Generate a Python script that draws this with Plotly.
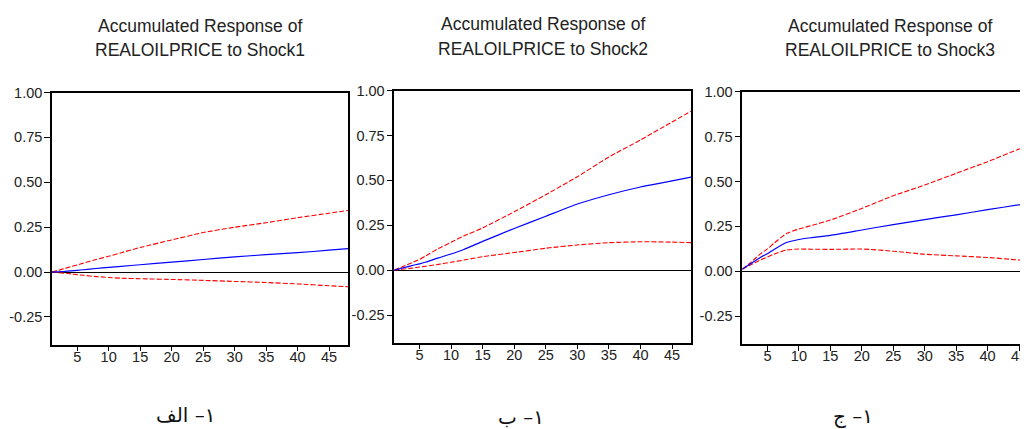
import plotly.graph_objects as go

# the page body has an 8px margin; the figure is sized so it fills the rest of the window
OFF = 8
W, H = 1028 - OFF, 429 - OFF

periods = [1, 2, 3, 4, 5, 6, 8, 10, 12, 15, 20, 25, 30, 35, 40, 45, 48]

# Shock1
s1_upper = [0, 0.01, 0.02, 0.03, 0.04, 0.05, 0.07, 0.088, 0.108, 0.137, 0.179, 0.22, 0.25, 0.275, 0.303, 0.328, 0.343]
s1_resp = [0, 0.002, 0.004, 0.007, 0.01, 0.013, 0.02, 0.026, 0.032, 0.041, 0.055, 0.07, 0.085, 0.097, 0.108, 0.122, 0.131]
s1_lower = [0, -0.003, -0.006, -0.01, -0.014, -0.018, -0.025, -0.03, -0.034, -0.037, -0.041, -0.046, -0.052, -0.058, -0.066, -0.076, -0.082]

# Shock2
s2_upper = [0, 0.015, 0.03, 0.045, 0.06, 0.08, 0.12, 0.155, 0.19, 0.235, 0.325, 0.42, 0.52, 0.63, 0.725, 0.825, 0.885]
s2_resp = [0, 0.009, 0.018, 0.027, 0.035, 0.045, 0.068, 0.09, 0.115, 0.16, 0.232, 0.30, 0.368, 0.42, 0.463, 0.497, 0.518]
s2_lower = [0, 0.004, 0.008, 0.012, 0.017, 0.022, 0.032, 0.044, 0.056, 0.075, 0.098, 0.122, 0.14, 0.153, 0.158, 0.156, 0.153]

# Shock3
s3_upper = [0.012, 0.04, 0.07, 0.10, 0.125, 0.155, 0.21, 0.235, 0.255, 0.285, 0.35, 0.42, 0.48, 0.545, 0.61, 0.68, 0.715]
s3_resp = [0.012, 0.035, 0.058, 0.08, 0.098, 0.12, 0.16, 0.177, 0.187, 0.20, 0.23, 0.26, 0.288, 0.314, 0.343, 0.37, 0.385]
s3_lower = [0.012, 0.03, 0.048, 0.065, 0.08, 0.095, 0.118, 0.124, 0.123, 0.122, 0.124, 0.112, 0.095, 0.086, 0.077, 0.063, 0.055]

title_line1 = "Accumulated Response of"
title_line2 = ["REALOILPRICE to Shock1", "REALOILPRICE to Shock2", "REALOILPRICE to Shock3"]
captions = ["١– الف", "١– ب", "١– ج"]

x_tickvals = [5, 10, 15, 20, 25, 30, 35, 40, 45]
y_tickvals = [-0.25, 0.0, 0.25, 0.5, 0.75, 1.0]
y_ticktext = ["-0.25", "0.00", "0.25", "0.50", "0.75", "1.00"]

panels = [
    (s1_upper, s1_resp, s1_lower),
    (s2_upper, s2_resp, s2_lower),
    (s3_upper, s3_resp, s3_lower),
]

# screen-pixel geometry of the plot boxes: (left, right, top, bottom)
boxes = [(52, 348, 86, 343), (394.3, 691, 84, 341), (742.3, 1028, 85, 342.3)]
x_ranges = [[1, 48], [1, 48], [1, 1 + (1028 - 742.3) / 6.29]]
title_y = [(25, 49.5), (23.5, 48.5), (25, 49.5)]
title_cx = [200, 542.7, 890]
caption_pos = [(185.5, 415), (521, 417), (852.5, 416)]
ANN_SHIFT = 7  # empirical vertical correction for annotation anchoring
CAP_SHIFT = 0


def fx(X):
    return (X - OFF) / W


def fy(Y):
    return 1 - (Y - OFF) / H


font_fam = "Liberation Sans, Arial, sans-serif"
txt_col = "#222222"

fig = go.Figure()
layout = dict(
    width=W, height=H,
    margin=dict(l=0, r=0, t=0, b=0, pad=0),
    paper_bgcolor="white", plot_bgcolor="white",
    showlegend=False,
    font=dict(family=font_fam, size=14, color=txt_col),
)
annotations = []
for i, (up, resp, lo) in enumerate(panels):
    n = "" if i == 0 else str(i + 1)
    xa, ya = "x" + n, "y" + n
    for vals, color, dash, lw in [(up, "#FF0000", "5px,2px", 1.1), (lo, "#FF0000", "5px,2px", 1.1), (resp, "#0000FF", "solid", 1.2)]:
        fig.add_trace(go.Scatter(x=periods, y=vals, mode="lines", xaxis=xa, yaxis=ya,
                                 line=dict(color=color, width=lw, dash=dash, shape="spline", smoothing=0.5),
                                 hoverinfo="skip"))
    l, r, t, b = boxes[i]
    layout["xaxis" + n] = dict(
        domain=[fx(l), min(1.0, fx(r))], range=x_ranges[i], anchor=ya,
        tickmode="array", tickvals=x_tickvals, ticks="outside", ticklen=5, tickwidth=1, tickcolor="black",
        ticklabelstandoff=-7,
        showline=True, linecolor="black", linewidth=1.5, mirror=True,
        showgrid=False, zeroline=False,
        tickfont=dict(family=font_fam, size=14.5, color=txt_col),
    )
    layout["yaxis" + n] = dict(
        domain=[fy(b), fy(t)], range=[-0.404, 1.0], anchor=xa,
        tickmode="array", tickvals=y_tickvals, ticktext=y_ticktext,
        ticks="outside", ticklen=6, tickwidth=1, tickcolor="black",
        ticklabelstandoff=-1,
        showline=True, linecolor="black", linewidth=1.5, mirror=(i < 2),
        showgrid=False, zeroline=True, zerolinecolor="black", zerolinewidth=1,
        tickfont=dict(family=font_fam, size=14.5, color=txt_col),
    )
    y1, y2 = title_y[i]
    for txt, yy in [(title_line1, y1), (title_line2[i], y2)]:
        annotations.append(dict(text=txt, x=fx(title_cx[i]), y=fy(yy - ANN_SHIFT), xref="paper", yref="paper",
                                xanchor="center", yanchor="middle", showarrow=False,
                                font=dict(family=font_fam, size=17.5, color=txt_col)))
    cx, cy = caption_pos[i]
    annotations.append(dict(text=captions[i], x=fx(cx), y=fy(cy - CAP_SHIFT), xref="paper", yref="paper",
                            xanchor="center", yanchor="middle", showarrow=False,
                            font=dict(family="DejaVu Sans, sans-serif", size=20, color="#111111")))

layout["annotations"] = annotations
fig.update_layout(**layout)
fig.write_html("out.html")
